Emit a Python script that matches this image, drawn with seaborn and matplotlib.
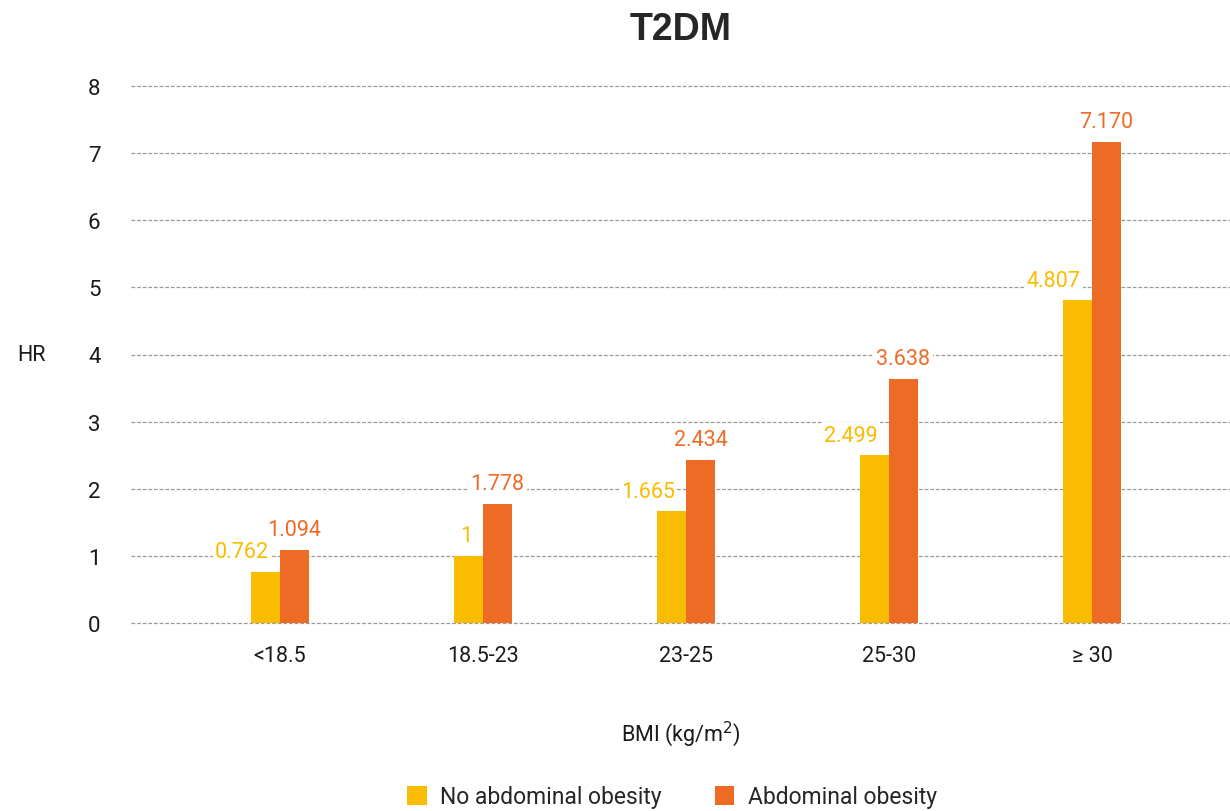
import matplotlib
matplotlib.use("Agg")
import matplotlib.pyplot as plt
import seaborn as sns
import pandas as pd
from matplotlib.patches import Patch

categories = ["<18.5", "18.5-23", "23-25", "25-30", "≥ 30"]
no_abd = [0.762, 1, 1.665, 2.499, 4.807]
abd = [1.094, 1.778, 2.434, 3.638, 7.170]
no_abd_labels = ["0.762", "1", "1.665", "2.499", "4.807"]
abd_labels = ["1.094", "1.778", "2.434", "3.638", "7.170"]
series_names = ["No abdominal obesity", "Abdominal obesity"]
colors = ["#F9BC00", "#EE6B26"]

df = pd.DataFrame({
    "BMI": categories * 2,
    "HR": no_abd + abd,
    "group": [series_names[0]] * len(categories) + [series_names[1]] * len(categories),
})

sns.set_theme(style="white")
plt.rcParams["font.family"] = ["Roboto", "DejaVu Sans"]

fig = plt.figure(figsize=(12.3, 8.12), dpi=100)
ax = fig.add_axes([131 / 1230, 1 - 624 / 812, 1 - 131 / 1230, (624 - 87) / 812])

sns.barplot(data=df, x="BMI", y="HR", hue="group", order=categories,
            hue_order=series_names, palette=colors, width=0.286, gap=0,
            saturation=1, legend=False, ax=ax, zorder=3, linewidth=0,
            edgecolor="none")

ax.set_ylim(0, 8)
ax.set_xlim(-0.734, 4.68)
ax.set_yticks(range(0, 9))
ax.yaxis.grid(True, linestyle=(0, (3, 1.5)), color="#9a9a9a", linewidth=0.9, zorder=0)
ax.xaxis.grid(False)
ax.set_axisbelow(True)
for gl in ax.get_ygridlines():
    gl.set_clip_on(False)
for s in ax.spines.values():
    s.set_visible(False)
ax.tick_params(axis="both", length=0)
ax.tick_params(axis="y", labelsize=16, pad=22, labelcolor="#1a1a1a")
ax.tick_params(axis="x", labelsize=15.5, pad=16, labelcolor="#1a1a1a")

ax.set_ylabel("HR", rotation=0, fontsize=15.5, color="#1a1a1a", va="center")
ax.yaxis.set_label_coords(-0.091, 0.5)
ax.set_xlabel("BMI (kg/m$^2$)", fontsize=15.5, color="#1a1a1a", labelpad=38)
ax.set_title("T2DM", fontsize=27, fontweight="bold", pad=34,
             family=["Liberation Sans", "DejaVu Sans"])

label_sets = [no_abd_labels, abd_labels]
for ci, cont in enumerate(ax.containers):
    for bar, txt in zip(cont, label_sets[ci]):
        h = bar.get_height()
        if ci == 0:
            x = bar.get_x() + bar.get_width()
            ha = "right"
            dx = -8
        else:
            x = bar.get_x() + bar.get_width() / 2
            ha = "center"
            dx = 0
        ax.annotate(txt, (x, h), xytext=(dx, 14.5), textcoords="offset points",
                    ha=ha, va="center", fontsize=15.5, color=colors[ci], zorder=5,
                    bbox=dict(boxstyle="square,pad=0.1", fc="white", ec="none"))

handles = [Patch(facecolor=c, edgecolor="none") for c in colors]
fig.legend(handles, series_names, loc="center", bbox_to_anchor=(672 / 1230, 1 - 798 / 812),
           ncol=2, frameon=False, fontsize=16.5, handlelength=0.85, handleheight=0.85,
           columnspacing=2.3, handletextpad=0.6)

fig.savefig("out.png", dpi=100)
